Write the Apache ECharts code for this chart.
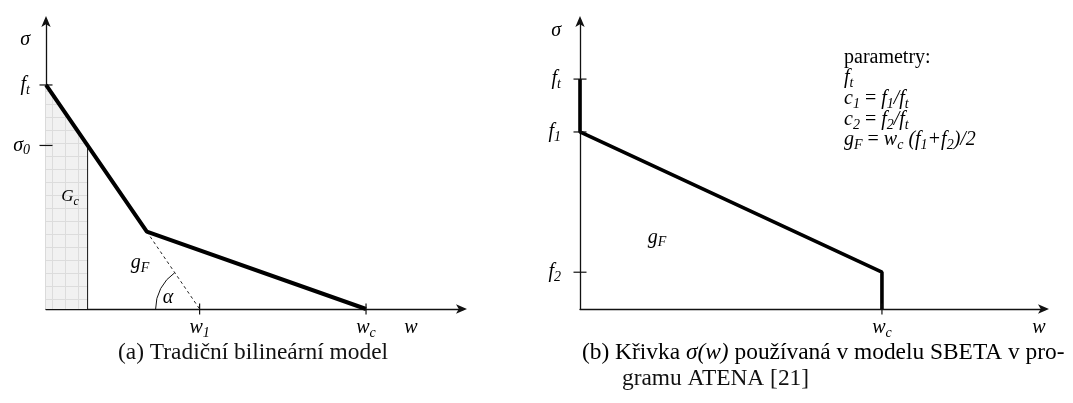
<!DOCTYPE html>
<html>
<head>
<meta charset="utf-8">
<script src="https://cdn.jsdelivr.net/npm/echarts@6/dist/echarts.min.js"></script>
<style>
  html, body { margin: 0; padding: 0; background: #fff; }
  #chart { width: 1073px; height: 403px; }
</style>
</head>
<body>
<div id="chart"></div>
<script>
// (a) bilinear softening
const leftCurve = [[0, 10], [3.15, 3.45], [10, 0]]
const leftDash = [[3.15, 3.45], [4.8, 0]]
const leftShade = [[0, 10], [1.3, 7.3], [1.3, 0]]
const leftYTicks = [7.3, 10]
const leftXTicks = [4.8, 10]
const leftYLabelPos = [7.3, 10, 12.0]
const leftYLabels = [['σ', '0'], ['f', 't'], ['σ', '']]
const leftXLabelPos = [4.8, 10, 11.4]
const leftXLabels = [['w', '1'], ['w', 'c'], ['w', '']]
const leftNotes = [[0.75, 5.0, 'G', 'c'], [2.94, 2.05, 'g', 'F'], [3.81, 0.5, 'α', '']]

// (b) SBETA curve
const rightCurve = [[0, 10], [0, 7.7], [10, 1.6], [10, 0]]
const rightYTicks = [10, 7.7, 1.6]
const rightXTicks = [10]
const rightYLabelPos = [1.6, 7.7, 10, 12.1]
const rightYLabels = [['f', '2'], ['f', '1'], ['f', 't'], ['σ', '']]
const rightXLabelPos = [10, 15.2]
const rightXLabels = [['w', 'c'], ['w', '']]
const rightNotes = [[2.55, 3.1, 'g', 'F']]

const SERIF = 'Liberation Serif'
const rich = {
  i: { fontFamily: SERIF, fontStyle: 'italic', fontSize: 20, color: '#000', verticalAlign: 'middle', lineHeight: 24 },
  s: { fontFamily: SERIF, fontStyle: 'italic', fontSize: 14, color: '#000', verticalAlign: 'bottom', lineHeight: 24 },
  n: { fontFamily: SERIF, fontSize: 20, color: '#000', verticalAlign: 'middle', lineHeight: 24 },
  gi: { fontFamily: SERIF, fontStyle: 'italic', fontSize: 17, color: '#000', verticalAlign: 'middle', lineHeight: 22 },
  gs: { fontFamily: SERIF, fontStyle: 'italic', fontSize: 12, color: '#000', verticalAlign: 'bottom', lineHeight: 22 }
}

// light grid texture for the shaded area
const tile = document.createElement('canvas')
tile.width = 13
tile.height = 13
const tctx = tile.getContext('2d')
tctx.fillStyle = '#f1f1f1'
tctx.fillRect(0, 0, 13, 13)
tctx.fillStyle = '#dcdcdc'
tctx.fillRect(0, 0, 13, 1)
tctx.fillRect(0, 0, 1, 13)

function sym(pair, small) {
  const a = small ? 'gi' : 'i'
  const b = small ? 'gs' : 's'
  return '{' + a + '|' + pair[0] + '}' + (pair[1] ? '{' + b + '|' + pair[1] + '}' : '')
}
function labelFor(pos, labels) {
  return function (v) {
    const k = pos.findIndex(p => Math.abs(p - v) < 1e-6)
    return k < 0 ? '' : sym(labels[k])
  }
}

const axisLine = {
  show: true,
  symbol: ['none', 'arrow'],
  symbolSize: [7, 11],
  symbolOffset: [0, 4],
  lineStyle: { color: '#111', width: 1.3 }
}

function xAxis(gi, max, pos, labels) {
  return {
    type: 'value', gridIndex: gi, min: 0, max: max,
    axisLine: axisLine, axisTick: { show: false }, splitLine: { show: false },
    axisLabel: { customValues: pos, formatter: labelFor(pos, labels), rich: rich, margin: 7 }
  }
}
function yAxis(gi, max, pos, labels, margin) {
  return {
    type: 'value', gridIndex: gi, min: 0, max: max,
    axisLine: axisLine, axisTick: { show: false }, splitLine: { show: false },
    axisLabel: { customValues: pos, formatter: labelFor(pos, labels), rich: rich, margin: margin }
  }
}

function ticks(gi, pts, size) {
  return {
    type: 'scatter', xAxisIndex: gi, yAxisIndex: gi, clip: false, silent: true,
    symbol: 'rect', symbolSize: size, itemStyle: { color: '#111', opacity: 1 }, data: pts, z: 5
  }
}
function notes(gi, list, small) {
  return {
    type: 'scatter', xAxisIndex: gi, yAxisIndex: gi, symbolSize: 0, silent: true,
    itemStyle: { opacity: 1 },
    data: list.map(n => ({ value: [n[0], n[1]], name: sym([n[2], n[3]], small && n[2] === 'G') })),
    label: { show: true, position: 'inside', color: '#000', formatter: p => p.name, rich: rich }
  }
}

const chart = echarts.init(document.getElementById('chart'))
chart.setOption({
  animation: false,
  grid: [
    { left: 46, right: 610, top: 20, bottom: 94 },
    { left: 580, right: 28, top: 20, bottom: 94 }
  ],
  xAxis: [
    xAxis(0, 13.03, leftXLabelPos, leftXLabels),
    xAxis(1, 15.4, rightXLabelPos, rightXLabels)
  ],
  yAxis: [
    yAxis(0, 12.9, leftYLabelPos, leftYLabels, 16),
    yAxis(1, 12.57, rightYLabelPos, rightYLabels, 19)
  ],
  series: [
    {
      type: 'line', xAxisIndex: 0, yAxisIndex: 0, data: leftShade, symbol: 'none',
      lineStyle: { color: '#111', width: 1 },
      areaStyle: { color: { image: tile, repeat: 'repeat' }, opacity: 1 }, z: 1
    },
    {
      type: 'line', xAxisIndex: 0, yAxisIndex: 0, data: leftDash, symbol: 'none',
      lineStyle: { color: '#222', width: 1, type: [3, 3] }, z: 2
    },
    {
      type: 'line', xAxisIndex: 0, yAxisIndex: 0, data: leftCurve, symbol: 'none', clip: false,
      lineStyle: { color: '#000', width: 4 }, z: 4
    },
    {
      type: 'custom', xAxisIndex: 0, yAxisIndex: 0, silent: true,
      data: [[leftDash[1][0], leftDash[1][1], leftDash[0][0], leftDash[0][1]]],
      renderItem: function (params, api) {
        const c = api.coord([api.value(0), api.value(1)])
        const k = api.coord([api.value(2), api.value(3)])
        const a = Math.atan2(k[1] - c[1], k[0] - c[0]) + 2 * Math.PI
        return {
          type: 'arc',
          shape: { cx: c[0], cy: c[1], r: 44, startAngle: Math.PI, endAngle: a, clockwise: true },
          style: { stroke: '#111', lineWidth: 1, fill: null }
        }
      }
    },
    ticks(0, leftYTicks.map(v => [0, v]), [13, 1.2]),
    ticks(0, leftXTicks.map(v => [v, 0]), [1.2, 11]),
    notes(0, leftNotes, true),
    {
      type: 'line', xAxisIndex: 1, yAxisIndex: 1, data: rightCurve, symbol: 'none', clip: false,
      lineStyle: { color: '#000', width: 3.6 }, z: 4
    },
    ticks(1, rightYTicks.map(v => [0, v]), [13, 1.2]),
    ticks(1, rightXTicks.map(v => [v, 0]), [1.2, 11]),
    notes(1, rightNotes, false)
  ],
  graphic: [
    { type: 'text', left: 844, top: 48, style: { text: '{n|parametry:}', rich: rich } },
    { type: 'text', left: 844, top: 68, style: { text: sym(['f', 't']), rich: rich } },
    { type: 'text', left: 844, top: 89, style: { text: sym(['c', '1']) + '{n| = }' + sym(['f', '1']) + '{i|/}' + sym(['f', 't']), rich: rich } },
    { type: 'text', left: 844, top: 110, style: { text: sym(['c', '2']) + '{n| = }' + sym(['f', '2']) + '{i|/}' + sym(['f', 't']), rich: rich } },
    { type: 'text', left: 844, top: 130, style: { text: sym(['g', 'F']) + '{n| = }' + sym(['w', 'c']) + '{i| (}' + sym(['f', '1']) + '{i|+}' + sym(['f', '2']) + '{i|)/2}', rich: rich } },
    { type: 'text', left: 118, top: 341, style: { text: '(a) Tradiční bilineární model', font: '23.4px "Liberation Serif"', fill: '#111' } },
    {
      type: 'text', left: 582, top: 341,
      style: {
        text: '{c|(b) Křivka }{m|σ(w)}{c| používaná v modelu SBETA v pro-}',
        rich: {
          c: { fontFamily: SERIF, fontSize: 23.4, color: '#111' },
          m: { fontFamily: SERIF, fontStyle: 'italic', fontSize: 23.4, color: '#111' }
        }
      }
    },
    { type: 'text', left: 622, top: 367, style: { text: 'gramu ATENA [21]', font: '23.4px "Liberation Serif"', fill: '#111' } }
  ]
})
</script>
</body>
</html>
